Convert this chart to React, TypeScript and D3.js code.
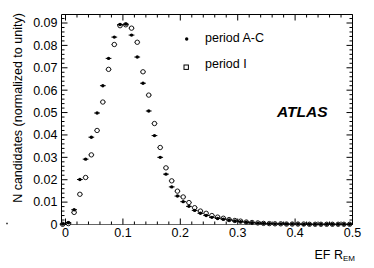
import React from "react";
import * as d3 from "d3";

// bin centres of the EF R_EM histogram
const binCenters = [
  -0.005, 0.005, 0.015, 0.025, 0.035, 0.045, 0.055, 0.065, 0.075, 0.085,
  0.095, 0.105, 0.115, 0.125, 0.135, 0.145, 0.155, 0.165, 0.175, 0.185,
  0.195, 0.205, 0.215, 0.225, 0.235, 0.245, 0.255, 0.265, 0.275, 0.285,
  0.295, 0.305, 0.315, 0.325, 0.335, 0.345, 0.355, 0.365, 0.375, 0.385,
  0.395, 0.405, 0.415, 0.425, 0.435, 0.445, 0.455, 0.465, 0.475, 0.485,
  0.495,
];

const periodAC = [
  0.0002, 0.0008, 0.0066, 0.0201, 0.0292, 0.039, 0.0498, 0.062, 0.0742, 0.0837,
  0.0893, 0.0895, 0.0846, 0.0748, 0.0631, 0.0507, 0.0397, 0.03, 0.0225, 0.0168,
  0.0127, 0.0102, 0.0081, 0.0063, 0.005, 0.004, 0.0032, 0.0027, 0.0024, 0.002,
  0.0016, 0.0013, 0.001, 0.0008, 0.0006, 0.0005, 0.0004, 0.0003, 0.0003, 0.0002,
  0.0002, 0.0002, 0.0001, 0.0001, 0.0001, 0.0001, 0.0001, 0.0001, 0.0001, 0.0001,
  0.0001,
];

const periodI = [
  0.0001, 0.0004, 0.0054, 0.0135, 0.021, 0.0311, 0.042, 0.0547, 0.0693, 0.0804,
  0.0888, 0.0892, 0.0877, 0.0814, 0.0682, 0.0578, 0.0451, 0.0344, 0.0253, 0.0195,
  0.0149, 0.0123, 0.0098, 0.0075, 0.006, 0.005, 0.004, 0.0033, 0.0028, 0.0022,
  0.0018, 0.0015, 0.0011, 0.0009, 0.0007, 0.0005, 0.0004, 0.0003, 0.0003, 0.0002,
  0.0002, 0.0002, 0.0002, 0.0001, 0.0001, 0.0001, 0.0001, 0.0001, 0.0001, 0.0001,
  0.0001,
];

const xTicks = [0, 0.1, 0.2, 0.3, 0.4, 0.5];
const yTicks = [0, 0.01, 0.02, 0.03, 0.04, 0.05, 0.06, 0.07, 0.08, 0.09];
const legendLabels = ["period A-C", "period I"];

const font = "'Liberation Sans', Arial, Helvetica, sans-serif";
const frame = { left: 61.5, right: 352.5, top: 14.5, bottom: 224.5 };
const halfBin = 0.005;

const fmtX = (d: number) => (d === 0 ? "0" : d3.format(".1f")(d));
const fmtY = (d: number) => (d === 0 ? "0" : d3.format(".2f")(d));

export default function App() {
  const x = d3.scaleLinear().domain([-0.007, 0.5]).range([frame.left, frame.right]);
  const y = d3.scaleLinear().domain([0, 0.0938]).range([frame.bottom, frame.top]);

  const xMinor = d3.range(0, 0.5001, 0.02);
  const yMinor = d3.range(0, 0.0938, 0.002);

  const open = binCenters.map((c, i) => ({ c, v: periodI[i] }));
  const filled = binCenters.map((c, i) => ({ c, v: periodAC[i] }));

  return (
    <svg
      width={374}
      height={268}
      style={{ position: "absolute", left: 0, top: 0, background: "#fff" }}
      fontFamily={font}
    >
      {/* frame */}
      <line x1={frame.left} x2={frame.left} y1={frame.top} y2={frame.bottom} stroke="#000" />
      <line x1={frame.right} x2={frame.right} y1={frame.top} y2={frame.bottom} stroke="#000" />
      <line x1={frame.left} x2={frame.right} y1={frame.top} y2={frame.top} stroke="#000" />
      <line x1={frame.left} x2={frame.right} y1={frame.bottom} y2={frame.bottom} stroke="#666" />

      {/* x ticks, bottom and top */}
      {xMinor.map((t) => {
        const major = xTicks.some((m) => Math.abs(m - t) < 1e-6);
        const len = major ? 6 : 3;
        return (
          <g key={"xt" + t} stroke="#000">
            <line x1={x(t)} x2={x(t)} y1={frame.bottom} y2={frame.bottom - len} />
            <line x1={x(t)} x2={x(t)} y1={frame.top} y2={frame.top + len} />
          </g>
        );
      })}
      {xTicks.map((t) => (
        <text key={"xl" + t} x={x(t)} y={236.5} fontSize={12.5} textAnchor="middle">
          {fmtX(t)}
        </text>
      ))}

      {/* y ticks, left and right */}
      {yMinor.map((t) => {
        const major = yTicks.some((m) => Math.abs(m - t) < 1e-6);
        const len = major ? 6 : 3;
        return (
          <g key={"yt" + t} stroke="#000">
            <line x1={frame.left} x2={frame.left + len} y1={y(t)} y2={y(t)} />
            <line x1={frame.right} x2={frame.right - len} y1={y(t)} y2={y(t)} />
          </g>
        );
      })}
      {yTicks.map((t) => (
        <text key={"yl" + t} x={57.5} y={y(t)} dy="0.35em" fontSize={12.5} textAnchor="end">
          {fmtY(t)}
        </text>
      ))}

      {/* axis titles */}
      <text
        transform="translate(21.5,108) rotate(-90)"
        fontSize={12.5}
        textAnchor="middle"
      >
        N candidates (normalized to unity)
      </text>
      <text x={355} y={258.5} fontSize={12.5} textAnchor="end">
        EF R
        <tspan fontSize={8} dy={2.5}>EM</tspan>
      </text>
      <line x1={6} x2={8} y1={223.5} y2={223.5} stroke="#555" strokeWidth={1.5} />

      {/* period I: open markers */}
      {open.map((d) => (
        <g key={"o" + d.c}>
          <line x1={x(d.c - halfBin)} x2={x(d.c + halfBin)} y1={y(d.v)} y2={y(d.v)} stroke="#000" strokeWidth={0.8} />
          <circle cx={x(d.c)} cy={y(d.v)} r={2.2} fill="#fff" stroke="#000" strokeWidth={0.9} />
        </g>
      ))}

      {/* period A-C: filled markers */}
      {filled.map((d) => (
        <g key={"f" + d.c}>
          <line x1={x(d.c - halfBin)} x2={x(d.c + halfBin)} y1={y(d.v)} y2={y(d.v)} stroke="#000" strokeWidth={1} />
          <circle cx={x(d.c)} cy={y(d.v)} r={1.7} fill="#000" />
        </g>
      ))}

      {/* legend */}
      <circle cx={186.7} cy={39} r={1.7} fill="#000" />
      <rect x={184} y={65} width={4.4} height={4.4} fill="#fff" stroke="#000" strokeWidth={1} />
      <text x={205} y={42} fontSize={12.5}>{legendLabels[0]}</text>
      <text x={205} y={68} fontSize={12.5}>{legendLabels[1]}</text>

      <text x={277} y={117} fontSize={15.5} fontWeight="bold" fontStyle="italic">
        ATLAS
      </text>
    </svg>
  );
}
